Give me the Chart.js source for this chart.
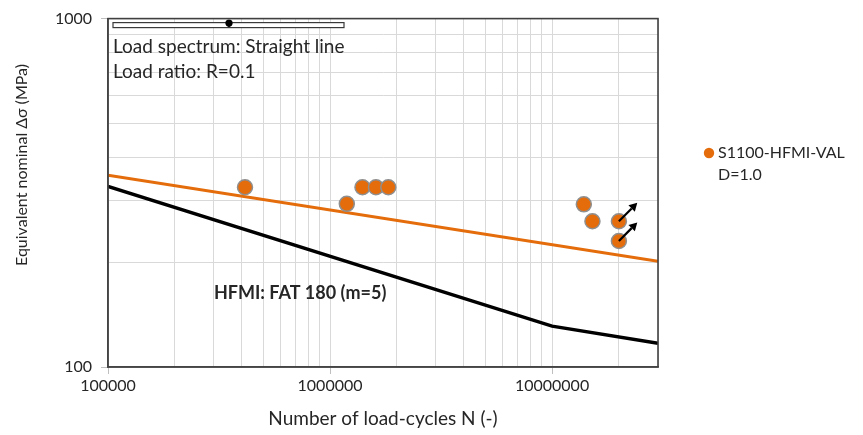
<!DOCTYPE html>
<html><head><meta charset="utf-8">
<script src="https://cdn.jsdelivr.net/npm/chart.js@4/dist/chart.umd.min.js"></script>
<style>html,body{margin:0;padding:0;background:#fff}#wrap{width:863px;height:435px;position:relative}</style>
</head><body><div id="wrap"><canvas id="c" width="863" height="435"></canvas></div>
<script>
// ---- data ----
const testCycles = [4.14e5, 1.19e6, 1.40e6, 1.61e6, 1.83e6, 1.39e7, 1.52e7, 2.0e7, 2.0e7];
const testStress = [328, 294, 328, 328, 328, 293, 262, 262, 230];
const runoutCycles = [2.0e7, 2.0e7];
const runoutStress = [262, 230];
const runoutArrowCycles = [2.42e7, 2.42e7];
const runoutArrowStress = [296, 260];
const meanCurveCycles = [1e5, 3e7];
const meanCurveStress = [355, 201];
const fatCurveCycles = [1e5, 1e7, 3e7];
const fatCurveStress = [330, 131, 117];
const xTickValues = [1e5,2e5,3e5,4e5,5e5,6e5,7e5,8e5,9e5,1e6,2e6,3e6,4e6,5e6,6e6,7e6,8e6,9e6,1e7,2e7,3e7];
const yTickValues = [100,200,300,400,500,600,700,800,900,1000];
const xLabelValues = [1e5,1e6,1e7];
const yLabelValues = [100,1000];
const seriesName = ['S1100-HFMI-VAL', 'D=1.0'];
const fatLabel = 'HFMI: FAT 180 (m=5)';
const fatLabelAt = {x: 3.0e5, y: 163};
const infoLines = ['Load spectrum: Straight line', 'Load ratio: R=0.1'];
const xTitle = 'Number of load-cycles N (-)';
const yTitle = 'Equivalent nominal Δσ (MPa)';

const ORANGE = '#E46C0A';
const FONT = 'Lato, "Open Sans", sans-serif';
const TXT = '#262626';

const pts = testCycles.map((x,i)=>({x, y: testStress[i]}));
const mean = meanCurveCycles.map((x,i)=>({x, y: meanCurveStress[i]}));
const fat = fatCurveCycles.map((x,i)=>({x, y: fatCurveStress[i]}));

const decor = {
  id: 'decor',
  beforeDatasetsDraw(chart) {
    const {ctx, chartArea: a} = chart;
    // top inset bar
    ctx.save();
    ctx.strokeStyle = '#3a3a3a'; ctx.lineWidth = 1.2; ctx.fillStyle = '#fff';
    ctx.fillRect(a.left + 5, a.top + 4, 231, 5);
    ctx.strokeRect(a.left + 5, a.top + 4, 231, 5);
    ctx.fillStyle = '#000';
    ctx.beginPath(); ctx.arc(a.left + 121, a.top + 4.5, 3.6, 0, Math.PI*2); ctx.fill();
    ctx.beginPath(); ctx.moveTo(a.left + 117.5, a.top + 5); ctx.lineTo(a.left + 124.5, a.top + 5); ctx.lineTo(a.left + 121, a.top + 9); ctx.closePath(); ctx.fill();
    ctx.fillStyle = TXT; ctx.font = '19px ' + FONT; ctx.textBaseline = 'alphabetic'; ctx.textAlign = 'left';
    ctx.fillText(infoLines[0], a.left + 5, a.top + 34);
    ctx.fillText(infoLines[1], a.left + 5, a.top + 59);
    ctx.restore();
  },
  afterDatasetsDraw(chart) {
    const {ctx, chartArea: a, scales: {x, y}} = chart;
    ctx.save();
    // plot frame
    ctx.strokeStyle = '#404040'; ctx.lineWidth = 1.6;
    ctx.strokeRect(a.left, a.top, a.right - a.left, a.bottom - a.top);
    // runout arrows
    ctx.strokeStyle = '#000'; ctx.fillStyle = '#000'; ctx.lineWidth = 2.2;
    runoutCycles.forEach((c, i) => {
      const x0 = x.getPixelForValue(c), y0 = y.getPixelForValue(runoutStress[i]);
      const x1 = x.getPixelForValue(runoutArrowCycles[i]), y1 = y.getPixelForValue(runoutArrowStress[i]);
      const ang = Math.atan2(y1 - y0, x1 - x0);
      const hl = 8, hw = 4.5;
      const bx = x1 - hl*Math.cos(ang), by = y1 - hl*Math.sin(ang);
      ctx.beginPath(); ctx.moveTo(x0, y0); ctx.lineTo(bx, by); ctx.stroke();
      ctx.beginPath(); ctx.moveTo(x1, y1);
      ctx.lineTo(bx + hw*Math.sin(ang), by - hw*Math.cos(ang));
      ctx.lineTo(bx - hw*Math.sin(ang), by + hw*Math.cos(ang));
      ctx.closePath(); ctx.fill();
    });
    // FAT label
    ctx.fillStyle = TXT; ctx.font = 'bold 18px ' + FONT; ctx.textBaseline = 'middle'; ctx.textAlign = 'left';
    ctx.fillText(fatLabel, x.getPixelForValue(fatLabelAt.x), y.getPixelForValue(fatLabelAt.y));
    // y title
    ctx.save();
    ctx.translate(22, 165); ctx.rotate(-Math.PI/2);
    ctx.font = '16px ' + FONT; ctx.textAlign = 'center'; ctx.textBaseline = 'middle'; ctx.fillStyle = TXT;
    ctx.fillText(yTitle, 0, 0);
    ctx.restore();
    // legend
    ctx.fillStyle = ORANGE;
    ctx.beginPath(); ctx.arc(709, 153, 5.2, 0, Math.PI*2); ctx.fill();
    ctx.fillStyle = TXT; ctx.font = '16px ' + FONT; ctx.textBaseline = 'middle';
    ctx.fillText(seriesName[0], 718, 153);
    ctx.fillText(seriesName[1], 718, 175);
    ctx.restore();
  }
};

new Chart(document.getElementById('c'), {
  type: 'scatter',
  data: {
    datasets: [
      {label: seriesName.join(' '), data: pts, backgroundColor: ORANGE, borderColor: '#8f8f8f', borderWidth: 1.5, pointRadius: 7.5, showLine: false, order: 0},
      {label: 'mean', data: mean, showLine: true, borderColor: ORANGE, borderWidth: 3, pointRadius: 0, fill: false, order: 1},
      {label: 'FAT', data: fat, showLine: true, borderColor: '#000', borderWidth: 3.5, pointRadius: 0, fill: false, order: 2}
    ]
  },
  options: {
    responsive: false, animation: false, devicePixelRatio: 1,
    layout: {padding: {top: 18, right: 205, left: 0, bottom: 0}},
    plugins: {legend: {display: false}, tooltip: {enabled: false}},
    scales: {
      x: {
        type: 'logarithmic', min: 1e5, max: 3e7,
        afterBuildTicks: s => { s.ticks = xTickValues.map(v => ({value: v, major: xLabelValues.includes(v)})); },
        afterFit: s => { s.height = 68; },
        ticks: {autoSkip: false, maxRotation: 0, minRotation: 0, padding: 2, color: TXT, font: {family: FONT, size: 16},
          callback: v => xLabelValues.includes(v) ? String(v) : ''},
        grid: {color: '#d9d9d9', lineWidth: 1, tickLength: 7,
          tickColor: c => (c.tick && xLabelValues.includes(c.tick.value)) ? '#bfbfbf' : 'rgba(0,0,0,0)'},
        border: {color: '#595959', width: 1.5},
        title: {display: true, text: xTitle, color: TXT, font: {family: FONT, size: 19}, padding: {top: 0, bottom: 5}}
      },
      y: {
        type: 'logarithmic', min: 100, max: 1000,
        afterBuildTicks: s => { s.ticks = yTickValues.map(v => ({value: v, major: yLabelValues.includes(v)})); },
        afterFit: s => { s.width = 108; },
        ticks: {autoSkip: false, padding: 9, color: TXT, font: {family: FONT, size: 16},
          callback: v => yLabelValues.includes(v) ? String(v) : ''},
        grid: {color: '#d9d9d9', lineWidth: 1, tickLength: 7,
          tickColor: c => (c.tick && yLabelValues.includes(c.tick.value)) ? '#bfbfbf' : 'rgba(0,0,0,0)'},
        border: {color: '#595959', width: 1.5}
      }
    }
  },
  plugins: [decor]
});
</script></body></html>
